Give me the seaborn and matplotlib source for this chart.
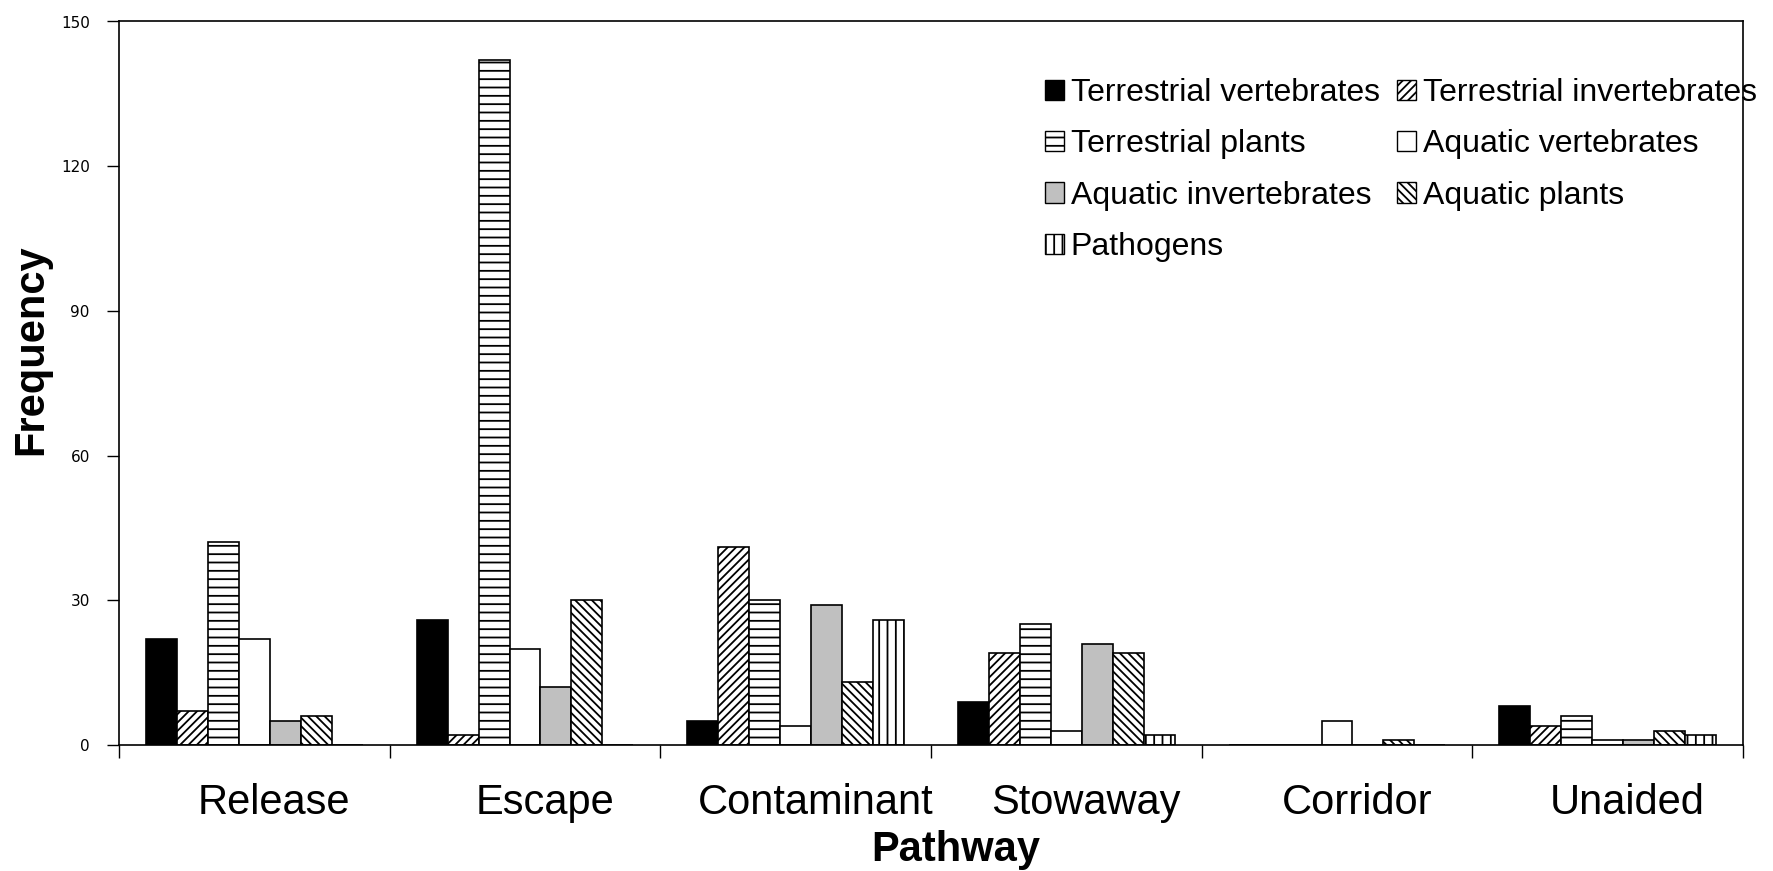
import numpy as np
import pandas as pd
import matplotlib
matplotlib.use("Agg")
import matplotlib.pyplot as plt
import matplotlib.patches as mpatches
import matplotlib.transforms as mtransforms
import seaborn as sns

# ---------------- data ----------------
pathways = ["Release", "Escape", "Contaminant", "Stowaway", "Corridor", "Unaided"]
groups = ["Terrestrial vertebrates", "Terrestrial invertebrates", "Terrestrial plants",
          "Aquatic vertebrates", "Aquatic invertebrates", "Aquatic plants", "Pathogens"]
terrestrial_vertebrates = [22, 26, 5, 9, 0, 8]
terrestrial_invertebrates = [7, 2, 41, 19, 0, 4]
terrestrial_plants = [42, 142, 30, 25, 0, 6]
aquatic_vertebrates = [22, 20, 4, 3, 5, 1]
aquatic_invertebrates = [5, 12, 29, 21, 0, 1]
aquatic_plants = [6, 30, 13, 19, 1, 3]
pathogens = [0, 0, 26, 2, 0, 2]
y_ticks = [0, 30, 60, 90, 120, 150]

series = [terrestrial_vertebrates, terrestrial_invertebrates, terrestrial_plants,
          aquatic_vertebrates, aquatic_invertebrates, aquatic_plants, pathogens]

rows = []
for g, vals in zip(groups, series):
    for p, v in zip(pathways, vals):
        rows.append({"Pathway": p, "Group": g, "Frequency": v})
df = pd.DataFrame(rows)

# ---------------- style ----------------
colors = ["#000000", "#ffffff", "#ffffff", "#ffffff", "#c0c0c0", "#ffffff", "#ffffff"]
hatches = ["", "////", "--", "", "", "\\\\\\\\", "||"]

sns.set_theme(style="white")
plt.rcParams["font.family"] = ["Liberation Sans", "DejaVu Sans"]
plt.rcParams["hatch.linewidth"] = 1.3
plt.rcParams["hatch.color"] = "black"
for k in ["text.color", "axes.labelcolor", "xtick.color", "ytick.color", "axes.edgecolor"]:
    plt.rcParams[k] = "black"

fig = plt.figure(figsize=(17.73, 8.71), dpi=100)
top_px, bot_px = 21.5, 745
ax = fig.add_axes([119 / 1773, 1 - bot_px / 871, (1743 - 119) / 1773, (bot_px - top_px) / 871])

sns.barplot(data=df, x="Pathway", y="Frequency", hue="Group", order=pathways,
            hue_order=groups, palette=colors, saturation=1, edgecolor="black",
            linewidth=1.2, width=0.8, legend=False, ax=ax, errorbar=None)

for cont, h in zip(ax.containers, hatches):
    for bar in cont:
        bar.set_hatch(h)

# axes
ax.set_xlim(-0.5, len(pathways) - 0.5)
ax.set_ylim(0, 150)
ax.set_yticks(y_ticks)
ax.set_yticklabels([str(t) for t in y_ticks], fontfamily="DejaVu Sans", fontsize=11)
ax.tick_params(axis="y", direction="out", length=9, width=1, color="black", pad=12,
               left=True)

ax.set_xticks(np.arange(-0.5, len(pathways), 1.0))
ax.set_xticklabels([])
ax.set_xticks(np.arange(len(pathways)), minor=True)
ax.set_xticklabels(pathways, minor=True, fontsize=30)
ax.tick_params(axis="x", which="major", direction="out", length=9, width=1,
               color="black", bottom=True)
ax.tick_params(axis="x", which="minor", length=0, pad=27, bottom=True)
shift = mtransforms.ScaledTranslation(20 / 100, 0, fig.dpi_scale_trans)
for lbl in ax.get_xticklabels(minor=True):
    lbl.set_transform(lbl.get_transform() + shift)

for s in ax.spines.values():
    s.set_visible(True)
    s.set_color("black")
    s.set_linewidth(1.2)

ax.set_xlabel("Pathway", fontsize=30, fontweight="bold")
ax.set_ylabel("Frequency", fontsize=30, fontweight="bold")
h_ax = bot_px - top_px
ax.xaxis.set_label_coords(0.515, -85 / h_ax)
ax.yaxis.set_label_coords(-0.042, (bot_px - 350) / h_ax)

# legend (row-wise order as in reference)
handles = [mpatches.Patch(facecolor=c, edgecolor="black", hatch=h, label=g)
           for c, h, g in zip(colors, hatches, groups)]
order = [0, 2, 4, 6, 1, 3, 5]
leg = fig.legend([handles[i] for i in order], [groups[i] for i in order],
                 ncol=2, loc="upper left", bbox_to_anchor=(1045 / 1773, 1 - 78 / 871),
                 frameon=False, fontsize=23, handlelength=0.6, handleheight=0.6,
                 handletextpad=0.2, columnspacing=0.55, labelspacing=0.67,
                 borderpad=0, borderaxespad=0)

fig.savefig("out.png", dpi=100)
